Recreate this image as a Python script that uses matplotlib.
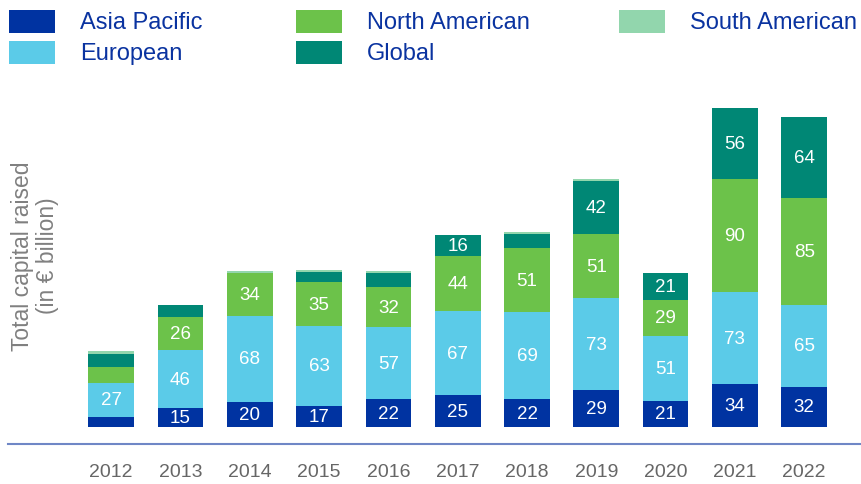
import numpy as np
import matplotlib.pyplot as plt
from matplotlib.patches import Rectangle

plt.rcParams['font.family'] = ['Liberation Sans', 'DejaVu Sans']

# Capital raised per region, € billion
years = ['2012', '2013', '2014', '2015', '2016', '2017', '2018', '2019', '2020', '2021', '2022']
asia_pacific = [8, 15, 20, 17, 22, 25, 22, 29, 21, 34, 32]
european = [27, 46, 68, 63, 57, 67, 69, 73, 51, 73, 65]
north_american = [13, 26, 34, 35, 32, 44, 51, 51, 29, 90, 85]
global_ = [10, 10, 0, 8, 11, 16, 11, 42, 21, 56, 64]
south_american = [2, 0, 1.5, 1.5, 1.5, 0, 1.5, 1.5, 0, 0, 0]

series = [
    ('Asia Pacific', asia_pacific, '#0033a1'),
    ('European', european, '#5bcbe8'),
    ('North American', north_american, '#6cc24a'),
    ('Global', global_, '#008775'),
    ('South American', south_american, '#92d6ad'),
]

W, H = 861, 485
fig = plt.figure(figsize=(W / 100, H / 100), dpi=100)
ax = fig.add_axes([8 / W, 40 / H, 1 - 8 / W, 345 / H])

x = np.arange(len(years))
bottom = np.zeros(len(years))
for name, vals, color in series:
    vals = np.array(vals, dtype=float)
    ax.bar(x, vals, 0.66, bottom=bottom, color=color, label=name)
    for xi, v, b in zip(x, vals, bottom):
        if v >= 15:
            ax.text(xi, b + v / 2, f'{v:.0f}', ha='center', va='center',
                    color='white', fontsize=13.5)
    bottom += vals

ax.set_xlim(-1.49, 10.82)
ax.set_ylim(-13.5, 260.3)
ax.set_xticks(x)
ax.set_xticklabels(years, fontsize=14, color='#666666')
ax.tick_params(axis='x', length=0, pad=14)
ax.set_yticks([])
for s in ['left', 'top', 'right']:
    ax.spines[s].set_visible(False)
ax.spines['bottom'].set_color('#6f87c6')
ax.spines['bottom'].set_linewidth(1.5)

fig.text(35 / W, 1 - 256 / H, 'Total capital raised\n(in € billion)', rotation=90,
         ha='center', va='center', multialignment='center', fontsize=16.5,
         color='#808080', linespacing=1.15)

# legend drawn by hand, filled column by column (2 rows)
col_x = [9, 296, 619]
row_top = [11, 42]
for i, (name, vals, color) in enumerate(series):
    cx, ry = col_x[i // 2], row_top[i % 2]
    fig.add_artist(Rectangle((cx / W, 1 - (ry + 23) / H), 46 / W, 23 / H,
                             transform=fig.transFigure, color=color, lw=0))
    fig.text((cx + 71) / W, 1 - (ry + 18) / H, name, fontsize=17,
             color='#0a33a0', ha='left', va='baseline')

fig.savefig('out.png', dpi=100)
